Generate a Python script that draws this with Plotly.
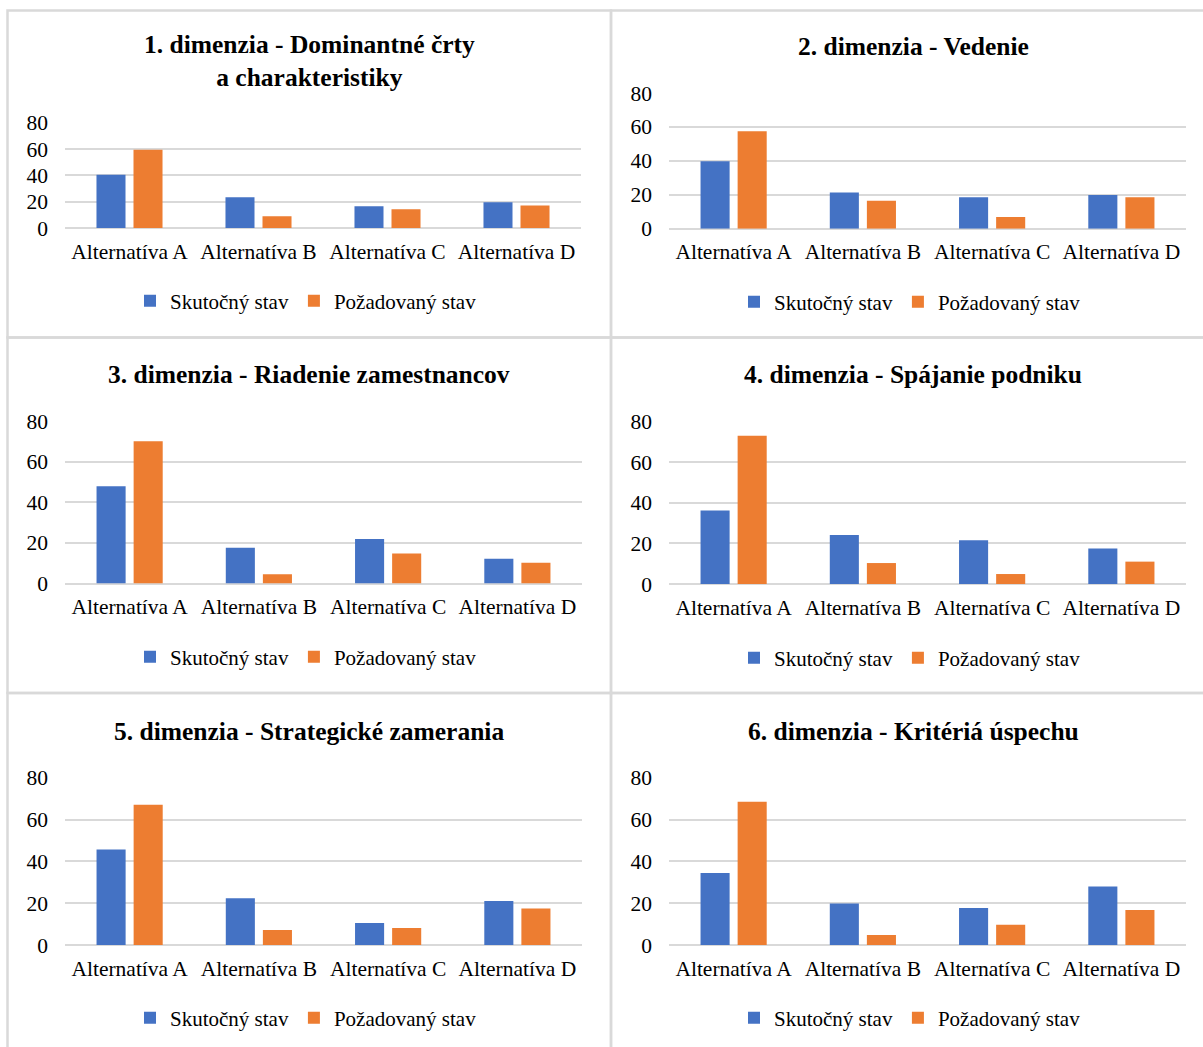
import plotly.graph_objects as go

# ---- data -------------------------------------------------------------
categories = ["Alternatíva A", "Alternatíva B", "Alternatíva C", "Alternatíva D"]
series_names = ["Skutočný stav", "Požadovaný stav"]
titles = [
    "1. dimenzia - Dominantné črty<br>a charakteristiky",
    "2. dimenzia - Vedenie",
    "3. dimenzia - Riadenie zamestnancov",
    "4. dimenzia - Spájanie podniku",
    "5. dimenzia - Strategické zamerania",
    "6. dimenzia - Kritériá úspechu",
]
y_ticks = [0, 20, 40, 60, 80]

skutocny_1 = [40.4, 23.4, 16.5, 19.6]
pozadovany_1 = [59.4, 8.9, 14.2, 17.0]
skutocny_2 = [39.7, 21.4, 18.5, 19.9]
pozadovany_2 = [57.4, 16.5, 6.9, 18.5]
skutocny_3 = [48.0, 17.6, 21.9, 12.2]
pozadovany_3 = [70.1, 4.6, 14.8, 10.2]
skutocny_4 = [36.2, 24.1, 21.5, 17.5]
pozadovany_4 = [72.9, 10.3, 4.9, 11.0]
skutocny_5 = [45.7, 22.3, 10.5, 21.0]
pozadovany_5 = [67.1, 7.2, 8.1, 17.5]
skutocny_6 = [34.4, 19.8, 17.7, 28.0]
pozadovany_6 = [68.5, 4.8, 9.7, 16.7]

skutocny = [skutocny_1, skutocny_2, skutocny_3, skutocny_4, skutocny_5, skutocny_6]
pozadovany = [pozadovany_1, pozadovany_2, pozadovany_3, pozadovany_4, pozadovany_5, pozadovany_6]

# ---- layout constants (pixels) ---------------------------------------
W, H = 1203, 1047
BLUE, ORANGE = "#4472C4", "#ED7D31"
GRID = "#D9D9D9"
FONT = "Liberation Serif"

# plot boxes: (left, right, top, bottom)
boxes = [
    (65, 581, 122.7, 228.0),
    (669, 1186, 93.0, 228.7),
    (65, 582, 421.3, 583.5),
    (669, 1186, 421.3, 584.0),
    (65, 582, 777.7, 945.0),
    (669, 1186, 777.7, 945.0),
]
title_pos = [(309, 61.5), (913, 47), (309, 375), (913, 375), (309, 731), (913, 731)]
legend_pos = [(306, 301), (910, 302), (306, 657), (910, 658), (306, 1018), (910, 1018)]


def fx(x):
    return x / W


def fy(y):
    return 1 - y / H


fig = go.Figure()
layout = {}
annotations = []

for i in range(6):
    n = i + 1
    xa = "x" if n == 1 else f"x{n}"
    ya = "y" if n == 1 else f"y{n}"
    lg = "legend" if n == 1 else f"legend{n}"
    for name, vals, color in ((series_names[0], skutocny[i], BLUE),
                              (series_names[1], pozadovany[i], ORANGE)):
        fig.add_trace(go.Bar(
            x=categories, y=vals, name=name,
            marker=dict(color=color, line=dict(width=0)),
            xaxis=xa, yaxis=ya, legend=lg,
            hovertemplate="%{x}: %{y}<extra>" + name + "</extra>",
        ))

    left, right, top, bottom = boxes[i]
    xkey = "xaxis" if n == 1 else f"xaxis{n}"
    ykey = "yaxis" if n == 1 else f"yaxis{n}"
    layout[xkey] = dict(
        domain=[fx(left), fx(right)], anchor=ya, automargin=False,
        showgrid=False, showline=False, zeroline=False, ticks="",
        tickfont=dict(family=FONT, size=21.5, color="#000000"),
        ticklabelstandoff=8, fixedrange=True,
    )
    layout[ykey] = dict(
        domain=[fy(bottom), fy(top)], anchor=xa, automargin=False,
        range=[0, 80], tickvals=y_ticks,
        showgrid=True, gridcolor=GRID, gridwidth=1.5,
        zeroline=True, zerolinecolor=GRID, zerolinewidth=1.5,
        showline=False, ticks="",
        tickfont=dict(family=FONT, size=21.5, color="#000000"),
        ticklabelstandoff=16, fixedrange=True,
    )

    lx, ly = legend_pos[i]
    layout[lg] = dict(
        orientation="h", x=fx(lx), xanchor="center", y=fy(ly), yanchor="middle",
        font=dict(family=FONT, size=21, color="#000000"),
        bgcolor="rgba(0,0,0,0)", itemwidth=30, traceorder="normal",
        itemclick=False, itemdoubleclick=False,
    )

    tx, ty = title_pos[i]
    annotations.append(dict(
        text=titles[i], xref="paper", yref="paper", x=fx(tx), y=fy(ty),
        xanchor="center", yanchor="middle", showarrow=False,
        font=dict(family=FONT, size=25.5, color="#000000", weight="bold"),
    ))

# chart frames
frames_x = [(7.5, 611), (611, 1215)]
frames_y = [(10.5, 337.5), (337.5, 693), (693, 1060)]
shapes = []
for (y0, y1) in frames_y:
    for (x0, x1) in frames_x:
        shapes.append(dict(
            type="rect", xref="paper", yref="paper",
            x0=fx(x0), x1=fx(x1), y0=fy(y1), y1=fy(y0),
            line=dict(color=GRID, width=2.5), fillcolor="rgba(0,0,0,0)",
            layer="below",
        ))

fig.update_layout(
    width=W, height=H,
    margin=dict(l=0, r=0, t=0, b=0, autoexpand=False),
    paper_bgcolor="white", plot_bgcolor="white",
    barmode="group", bargap=0.426, bargroupgap=0.216,
    annotations=annotations, shapes=shapes,
    **layout,
)

fig.write_html("out.html", config={"displayModeBar": False})
